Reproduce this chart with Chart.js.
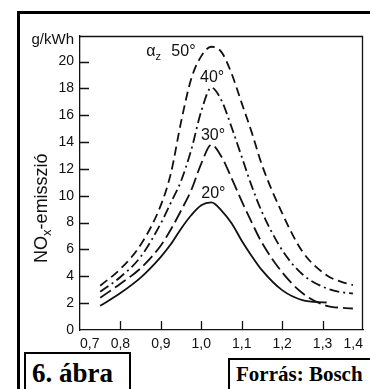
<!DOCTYPE html>
<html>
<head>
<meta charset="utf-8">
<script src="https://cdn.jsdelivr.net/npm/chart.js@4"></script>
<style>
  body { margin: 0; background: #fff; overflow: hidden; }
  #wrap { position: absolute; left: 0; top: 0; width: 370px; height: 389px; }
  .frame { position: absolute; border: 3px solid #000; }
  .box { position: absolute; border: 2px solid #000; background: #fff; }
  .box span { position: absolute; white-space: nowrap; font-family: "Liberation Serif", "Times New Roman", serif; font-weight: bold; color: #000; }
</style>
</head>
<body>
<div id="wrap"><canvas id="noxChart"></canvas></div>
<div class="frame" style="left:17px; top:11px; width:400px; height:400px;"></div>
<div class="box" style="left:24px; top:352px; width:103px; height:60px;"><span style="left:6px; top:6px; font-size:27px; line-height:27px;">6. ábra</span></div>
<div class="box" style="left:228px; top:358px; width:200px; height:60px;"><span style="left:6px; top:4px; font-size:21px; line-height:21px;">Forrás: Bosch</span></div>
<script>
// lambda (air ratio) grid shared by all curves
const lambdaValues = [0.75, 0.8, 0.85, 0.9, 0.925, 0.95, 0.975, 1.0, 1.025, 1.05, 1.075, 1.1, 1.125, 1.15, 1.2, 1.25, 1.31, 1.35, 1.375];

// NOx emission, g/kWh, one array per ignition angle
const nox20 = [1.8, 2.75, 3.9, 5.45, 6.4, 7.55, 8.55, 9.3, 9.5, 8.9, 7.95, 6.65, 5.5, 4.46, 2.97, 2.23, 2.05, null, null];
const nox30 = [2.4, 3.45, 4.6, 6.3, 7.5, 8.9, 10.4, 12.4, 13.8, 12.9, 11.3, 9.6, 8.0, 6.5, 4.3, 2.75, 1.8, 1.65, 1.6];
const nox40 = [2.85, 3.95, 5.45, 7.95, 9.5, 11.1, 13.4, 16.3, 18.05, 17.1, 15.1, 12.9, 10.7, 8.8, 5.95, 4.15, 3.1, 2.8, 2.72];
const nox50 = [3.3, 4.55, 6.35, 9.3, 11.7, 15.5, 18.7, 20.4, 21.1, 20.7, 19.1, 16.9, 14.7, 12.3, 8.7, 5.85, 4.08, 3.55, 3.35];

const seriesNames = ['20°', '30°', '40°', '50°'];

const xTickValues = [0.7, 0.8, 0.9, 1.0, 1.1, 1.2, 1.3, 1.4];
const xTickLabels = ['0,7', '0,8', '0,9', '1,0', '1,1', '1,2', '1,3', '1,4'];
const yTickValues = [0, 2, 4, 6, 8, 10, 12, 14, 16, 18, 20];
const yTickLabels = ['0', '2', '4', '6', '8', '10', '12', '14', '16', '18', '20'];

const ink = '#111';

function toPoints(values) {
  return lambdaValues
    .map((x, i) => ({ x: x, y: values[i] }))
    .filter(p => p.y !== null);
}

function curve(label, values, dash) {
  return {
    label: label,
    data: toPoints(values),
    borderColor: ink,
    borderWidth: 1.8,
    borderDash: dash,
    pointRadius: 0,
    fill: false,
    cubicInterpolationMode: 'monotone'
  };
}

// text with optional subscript parts: [[text, isSub], ...]
function drawParts(ctx, parts, x, y, size) {
  let cx = x;
  parts.forEach(([t, sub]) => {
    ctx.font = (sub ? Math.round(size * 0.7) : size) + 'px "Liberation Sans", Arial, sans-serif';
    ctx.fillText(t, cx, sub ? y + size * 0.25 : y);
    cx += ctx.measureText(t).width;
  });
}

const decorations = {
  id: 'decorations',
  afterDraw(chart) {
    const { ctx, chartArea: a } = chart;
    const x = chart.scales.x, y = chart.scales.y;
    ctx.save();
    ctx.strokeStyle = ink;
    ctx.lineWidth = 1.3;
    ctx.setLineDash([]);

    // top and right side of the plot frame
    ctx.beginPath();
    ctx.moveTo(a.left, a.top + 0.5);
    ctx.lineTo(a.right - 0.5, a.top + 0.5);
    ctx.lineTo(a.right - 0.5, a.bottom);
    ctx.stroke();

    // tick marks pointing into the plot
    ctx.beginPath();
    yTickValues.forEach(v => {
      if (v === 0) return;
      const py = Math.round(y.getPixelForValue(v)) + 0.5;
      ctx.moveTo(a.left, py);
      ctx.lineTo(a.left + 9, py);
    });
    xTickValues.forEach(v => {
      if (v <= 0.7 || v >= 1.4) return;
      const px = Math.round(x.getPixelForValue(v)) + 0.5;
      ctx.moveTo(px, a.bottom);
      ctx.lineTo(px, a.bottom - 9);
    });
    ctx.stroke();

    ctx.fillStyle = ink;
    ctx.textBaseline = 'alphabetic';

    // unit above the axis
    ctx.textAlign = 'right';
    ctx.font = '15px "Liberation Sans", Arial, sans-serif';
    ctx.fillText('g/kWh', a.left - 6, a.top + 8);

    // curve labels
    ctx.textAlign = 'left';
    drawParts(ctx, [['α', false], ['z', true]], x.getPixelForValue(0.864), y.getPixelForValue(20.4), 16);
    const labelAt = [[1.0, 9.8], [0.999, 14.16], [0.997, 18.46], [0.926, 20.4]];
    seriesNames.forEach((name, i) => {
      ctx.font = '16px "Liberation Sans", Arial, sans-serif';
      ctx.fillText(name, x.getPixelForValue(labelAt[i][0]), y.getPixelForValue(labelAt[i][1]));
    });

    // rotated axis title
    ctx.translate(a.left - 33.5, y.getPixelForValue(5));
    ctx.rotate(-Math.PI / 2);
    drawParts(ctx, [['NO', false], ['x', true], ['-emisszió', false]], 0, 0, 18);
    ctx.restore();
  }
};

new Chart(document.getElementById('noxChart'), {
  type: 'line',
  data: {
    datasets: [
      curve(seriesNames[0], nox20, []),
      curve(seriesNames[1], nox30, [13, 5]),
      curve(seriesNames[2], nox40, [10, 4, 2, 4]),
      curve(seriesNames[3], nox50, [9, 5])
    ]
  },
  options: {
    responsive: true,
    maintainAspectRatio: false,
    animation: false,
    layout: { padding: { left: 0, top: 36, right: 7, bottom: 29 } },
    plugins: {
      legend: { display: false },
      tooltip: { enabled: false }
    },
    scales: {
      x: {
        type: 'linear',
        min: 0.7,
        max: 1.4,
        afterBuildTicks: s => { s.ticks = xTickValues.map(v => ({ value: v })); },
        afterFit: s => { s.height = 30; },
        grid: { display: false, drawTicks: false },
        border: { display: true, color: ink, width: 1.3 },
        ticks: {
          align: 'inner',
          padding: 6,
          color: ink,
          font: { family: '"Liberation Sans", Arial, sans-serif', size: 14 },
          callback: (v, i) => xTickLabels[i]
        }
      },
      y: {
        min: 0,
        max: 21.9,
        afterBuildTicks: s => { s.ticks = yTickValues.map(v => ({ value: v })); },
        afterFit: s => { s.width = 80; },
        grid: { display: false, drawTicks: false },
        border: { display: true, color: ink, width: 1.3 },
        ticks: {
          padding: 6,
          color: ink,
          font: { family: '"Liberation Sans", Arial, sans-serif', size: 14 },
          callback: (v, i) => yTickLabels[i]
        }
      }
    }
  },
  plugins: [decorations]
});
</script>
</body>
</html>
